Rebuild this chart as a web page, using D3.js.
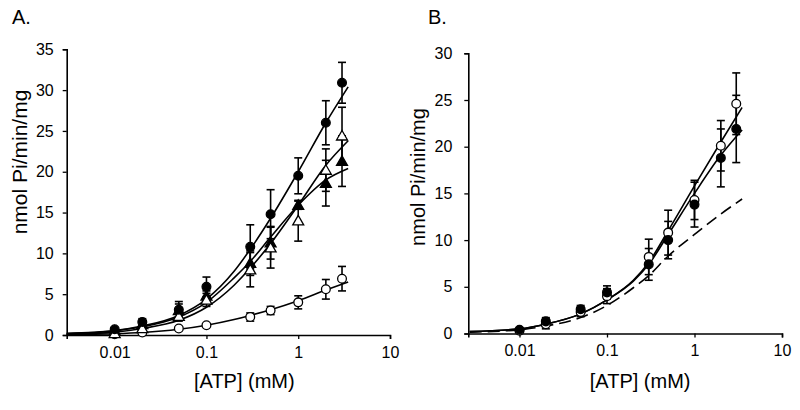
<!DOCTYPE html>
<html>
<head>
<meta charset="utf-8">
<script src="https://cdn.jsdelivr.net/npm/d3@7"></script>
<style>
  body { margin: 0; background: #fff; }
  svg { display: block; font-family: "Liberation Sans", Arial, sans-serif; }
</style>
</head>
<body>
<div id="chart"></div>
<script>
// ATP concentrations (mM) for measured points
const atpX = [0.01, 0.02, 0.05, 0.1, 0.3, 0.5, 1, 2, 3];

// Panel A measured values and SEM
const aFilledCircle    = [0.7, 1.6, 3.1, 5.9, 10.8, 14.8, 19.5, 26.0, 30.9];
const aFilledCircleErr = [0.3, 0.4, 1.0, 1.2, 2.7, 3.0, 2.2, 2.7, 2.5];
const aOpenTri         = [0.2, 0.8, 2.3, 4.3, 8.0, 10.7, 14.0, 20.2, 24.4];
const aOpenTriErr      = [0.2, 0.3, 0.6, 0.8, 2.1, 2.5, 2.5, 2.6, 3.5];
const aFilledTri       = [0.5, 1.3, 3.0, 4.8, 8.8, 11.3, 15.9, 18.6, 21.3];
const aFilledTriErr    = [0.2, 0.4, 0.8, 0.6, 1.5, 2.0, 0.5, 2.8, 3.1];
const aOpenCircle      = [0.1, 0.3, 0.8, 1.2, 2.2, 3.0, 4.0, 5.6, 6.9];
const aOpenCircleErr   = [0.1, 0.1, 0.2, 0.3, 0.5, 0.5, 0.8, 1.2, 1.5];

const curveXA  = [0.003, 0.01, 0.02, 0.05, 0.1, 0.2, 0.3, 0.5, 1, 2, 3.5];
const aCurveFC = [0.2, 0.55, 1.1, 2.4, 4.4, 7.8, 10.5, 14.3, 20.0, 26.0, 30.4];
const aCurveOT = [0.1, 0.35, 0.8, 1.8, 3.4, 6.1, 8.2, 11.2, 15.9, 20.8, 23.8];
const aCurveFT = [0.15, 0.5, 1.0, 2.2, 4.0, 7.0, 9.0, 12.0, 15.9, 19.0, 20.4];
const aCurveOC = [0.05, 0.15, 0.3, 0.7, 1.2, 1.9, 2.4, 3.1, 4.2, 5.5, 6.5];

// Panel B measured values and SEM
const bOpenCircle      = [0.3, 1.0, 2.3, 4.0, 8.2, 10.8, 14.3, 20.1, 24.6];
const bOpenCircleErr   = [0.2, 0.5, 0.5, 0.8, 1.9, 2.4, 2.1, 2.7, 3.3];
const bFilledCircle    = [0.4, 1.3, 2.6, 4.4, 7.4, 10.0, 13.8, 18.8, 21.9];
const bFilledCircleErr = [0.2, 0.4, 0.4, 0.7, 1.7, 2.0, 2.4, 3.1, 3.6];

// Panel B fitted curves
const curveXB    = [0.0027, 0.01, 0.02, 0.05, 0.1, 0.2, 0.3, 0.5, 1, 2, 3.5];
const bCurveOC   = [0.2, 0.5, 1.0, 2.1, 3.6, 5.7, 7.6, 11.0, 15.8, 20.5, 24.2];
const bCurveFC   = [0.2, 0.5, 1.0, 2.1, 3.6, 5.6, 7.4, 10.6, 15.0, 19.1, 21.8];
const bCurveDash = [0.15, 0.4, 0.8, 1.7, 3.0, 4.9, 6.2, 8.3, 10.6, 12.8, 14.4];

const xTicks = [0.01, 0.1, 1, 10];
const xTickLabels = ["0.01", "0.1", "1", "10"];
const yTicksA = [0, 5, 10, 15, 20, 25, 30, 35];
const yTicksB = [0, 5, 10, 15, 20, 25, 30];

const svg = d3.select("#chart").append("svg")
  .attr("width", 800)
  .attr("height", 410);

svg.append("rect").attr("width", 800).attr("height", 410).attr("fill", "#fff");

const drawPanel = (p) => {
  const xScale = d3.scaleLog().domain(p.xDomain).range([p.left, p.right]);
  const yScale = d3.scaleLinear().domain([0, p.yMax]).range([p.bottom, p.top]);

  const g = svg.append("g");

  const xAxis = d3.axisBottom(xScale)
    .tickValues(xTicks)
    .tickFormat((d, i) => xTickLabels[i])
    .tickSizeOuter(0)
    .tickSize(4)
    .tickPadding(7.5);
  const xAxisG = g.append("g")
    .attr("transform", `translate(0, ${p.bottom})`)
    .call(xAxis);

  const yAxis = d3.axisLeft(yScale)
    .tickValues(p.yTicks)
    .tickSizeOuter(0)
    .tickSize(4)
    .tickPadding(p.yPad);
  const yAxisG = g.append("g")
    .attr("transform", `translate(${p.left}, 0)`)
    .call(yAxis);

  [xAxisG, yAxisG].forEach(a => {
    a.select(".domain").attr("stroke-width", 1.6);
    a.selectAll(".tick line").attr("stroke-width", 1.3);
    a.selectAll(".tick text")
      .attr("font-size", 16)
      .attr("font-family", "Liberation Sans, Arial, sans-serif")
      .attr("fill", "#000");
  });

  // panel letter
  svg.append("text")
    .attr("x", p.letterX).attr("y", 24)
    .attr("font-size", 20)
    .text(p.letter);

  // axis titles
  svg.append("text")
    .attr("x", (p.left + p.right) / 2 + p.xTitleShift)
    .attr("y", 388)
    .attr("text-anchor", "middle")
    .attr("font-size", 20)
    .text("[ATP] (mM)");

  svg.append("text")
    .attr("transform", `translate(${p.yTitleX}, ${p.yTitleY}) rotate(-90)`)
    .attr("text-anchor", "middle")
    .attr("font-size", p.yTitleSize)
    .text("nmol Pi/min/mg");

  // fitted curves
  const line = d3.line()
    .x(d => xScale(d[0]))
    .y(d => yScale(d[1]))
    .curve(d3.curveMonotoneX);

  p.curves.forEach(c => {
    g.append("path")
      .attr("d", line(c.x.map((x, i) => [x, c.y[i]])))
      .attr("fill", "none")
      .attr("stroke", "#000")
      .attr("stroke-width", 1.6)
      .attr("stroke-dasharray", c.dash ? "12,6" : null);
  });

  // error bars then markers
  p.series.forEach(s => {
    const eb = g.append("g").attr("stroke", "#000").attr("stroke-width", 1.6);
    atpX.forEach((x, i) => {
      const cx = xScale(x);
      const yTop = yScale(s.v[i] + s.e[i]);
      const yBot = yScale(s.v[i] - s.e[i]);
      eb.append("line").attr("x1", cx).attr("x2", cx).attr("y1", yTop).attr("y2", yBot);
      if (s.e[i] >= 0.4) {
        eb.append("line").attr("x1", cx - 4).attr("x2", cx + 4).attr("y1", yTop).attr("y2", yTop);
        eb.append("line").attr("x1", cx - 4).attr("x2", cx + 4).attr("y1", yBot).attr("y2", yBot);
      }
    });
  });

  p.series.forEach(s => {
    const sym = d3.symbol()
      .type(s.shape === "tri" ? d3.symbolTriangle : d3.symbolCircle)
      .size(s.shape === "tri" ? 52 : 60);
    g.append("g").selectAll("path")
      .data(atpX.map((x, i) => [x, s.v[i]]))
      .join("path")
      .attr("d", sym)
      .attr("transform", d => `translate(${xScale(d[0])}, ${yScale(d[1]) + (s.shape === "tri" ? 1 : 0)})`)
      .attr("fill", s.filled ? "#000" : "#fff")
      .attr("stroke", "#000")
      .attr("stroke-width", 1.3);
  });
};

drawPanel({
  letter: "A.", letterX: 12,
  xDomain: [0.003, 10], left: 66.7, right: 390,
  yMax: 35, top: 49.3, bottom: 335, yTicks: yTicksA, yPad: 9,
  xTitleShift: 16, yTitleX: 27, yTitleY: 162, yTitleSize: 21,
  curves: [
    { x: curveXA, y: aCurveOC },
    { x: curveXA, y: aCurveFT },
    { x: curveXA, y: aCurveOT },
    { x: curveXA, y: aCurveFC }
  ],
  series: [
    { v: aOpenCircle, e: aOpenCircleErr, shape: "circle", filled: false },
    { v: aFilledTri, e: aFilledTriErr, shape: "tri", filled: true },
    { v: aOpenTri, e: aOpenTriErr, shape: "tri", filled: false },
    { v: aFilledCircle, e: aFilledCircleErr, shape: "circle", filled: true }
  ]
});

drawPanel({
  letter: "B.", letterX: 428,
  xDomain: [0.0026, 10], left: 468.3, right: 782,
  yMax: 30, top: 53.3, bottom: 333.5, yTicks: yTicksB, yPad: 12,
  xTitleShift: 15, yTitleX: 425, yTitleY: 177, yTitleSize: 20,
  curves: [
    { x: curveXB, y: bCurveDash, dash: true },
    { x: curveXB, y: bCurveFC },
    { x: curveXB, y: bCurveOC }
  ],
  series: [
    { v: bOpenCircle, e: bOpenCircleErr, shape: "circle", filled: false },
    { v: bFilledCircle, e: bFilledCircleErr, shape: "circle", filled: true }
  ]
});
</script>
</body>
</html>
